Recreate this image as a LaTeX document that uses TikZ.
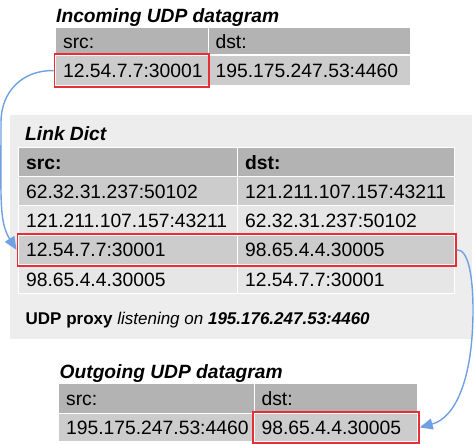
\documentclass[tikz,border=0pt]{standalone}
\usepackage{fontspec}
\setmainfont{Liberation Sans}
\usetikzlibrary{arrows.meta,fit}
\definecolor{hdr}{RGB}{179,179,179}
\definecolor{rowA}{RGB}{204,204,204}
\definecolor{rowB}{RGB}{230,230,230}
\definecolor{panelgray}{RGB}{237,237,237}
\definecolor{hl}{RGB}{232,45,55}
\definecolor{arr}{RGB}{112,160,225}
\begin{document}
\begin{tikzpicture}[x=1pt,y=-1pt,
  cell/.style={anchor=north west, shape=rectangle, draw=white, line width=1.2pt,
    inner xsep=7.5pt, inner ysep=0pt, text height=13.8pt, text depth=0pt,
    align=left, font=\fontsize{19.3}{22}\selectfont},
  cw/.code={\pgfmathsetmacro\tw{#1-15}\edef\tmp{\noexpand\tikzset{minimum width=#1pt,text width=\tw pt}}\tmp},
  ttl/.style={anchor=base west, inner sep=0pt, font=\fontsize{19.2}{22}\selectfont\bfseries\itshape},
  hlbox/.style={draw=hl, line width=1.8pt, inner sep=0.6pt, shape=rectangle},
  conn/.style={draw=arr, line width=1.4pt, -{Triangle[length=13pt,width=11pt]}}
]
\useasboundingbox (0,0) rectangle (474,444);

% ---- Incoming datagram
\node[ttl] (tin) at (56,22.7) {Incoming UDP datagram};
\node[cell, cw=152.5, minimum height=27.5pt, fill=hdr] (i1) at (55,27) {src:};
\node[cell, cw=202.5, minimum height=27.5pt, fill=hdr] (i2) at (207.5,27) {dst:};
\node[cell, cw=152.5, minimum height=31pt, fill=rowA] (i3) at (55,54.5) {12.54.7.7:30001};
\node[cell, cw=202.5, minimum height=31pt, fill=rowA] (i4) at (207.5,54.5) {195.175.247.53:4460};
\node[hlbox, fit=(i3)] (hlTop) {};

% ---- Link dict panel
\node[fill=panelgray, anchor=north west, minimum width=462pt, minimum height=224pt, inner sep=0pt] (pn) at (10,115) {};
\node[ttl] (tld) at (25,140.7) {Link Dict};
\node[cell, cw=219, minimum height=29pt, fill=hdr, font=\fontsize{19.3}{22}\selectfont\bfseries] (h1) at (18,147) {src:};
\node[cell, cw=217, minimum height=29pt, fill=hdr, font=\fontsize{19.3}{22}\selectfont\bfseries] (h2) at (237,147) {dst:};
\node[cell, cw=219, minimum height=29pt, fill=rowA] (a1) at (18,176) {62.32.31.237:50102};
\node[cell, cw=217, minimum height=29pt, fill=rowA] (a2) at (237,176) {121.211.107.157:43211};
\node[cell, cw=219, minimum height=29.5pt, fill=rowB] (b1) at (18,205) {121.211.107.157:43211};
\node[cell, cw=217, minimum height=29.5pt, fill=rowB] (b2) at (237,205) {62.32.31.237:50102};
\node[cell, cw=219, minimum height=29.5pt, fill=rowA] (c1) at (18,234.5) {12.54.7.7:30001};
\node[cell, cw=217, minimum height=29.5pt, fill=rowA] (c2) at (237,234.5) {98.65.4.4.30005};
\node[cell, cw=219, minimum height=29pt, fill=rowB] (d1) at (18,264) {98.65.4.4.30005};
\node[cell, cw=217, minimum height=29pt, fill=rowB] (d2) at (237,264) {12.54.7.7:30001};
\node[hlbox, fit=(c1)(c2)] (hlMid) {};
\node[anchor=base west, inner sep=0pt, font=\fontsize{17}{20}\selectfont] (px) at (25.5,324)
  {\textbf{UDP proxy} \textit{listening on} \textbf{\textit{195.176.247.53:4460}}};

% ---- Outgoing datagram
\node[ttl] (tout) at (59.5,378.3) {Outgoing UDP datagram};
\node[cell, cw=195.5, minimum height=29.5pt, fill=hdr] (o1) at (58,383) {src:};
\node[cell, cw=163.5, minimum height=29.5pt, fill=hdr] (o2) at (253.5,383) {dst:};
\node[cell, cw=195.5, minimum height=28.5pt, fill=rowA] (o3) at (58,412.5) {195.175.247.53:4460};
\node[cell, cw=163.5, minimum height=28.5pt, fill=rowA] (o4) at (253.5,412.5) {98.65.4.4.30005};
\node[hlbox, fit=(o4)] (hlBot) {};

% ---- connectors
\coordinate (w1) at (1,122);
\coordinate (w2) at (473,310);
\draw[conn] (hlTop.west) .. controls (22,70) and (1,92) .. (w1)
  .. controls (1,200) and (-1,222) .. (hlMid.west);
\draw[conn] (hlMid.east) .. controls (468,249) and (473,275) .. (w2)
  .. controls (473,380) and (455,418) .. (hlBot.east);
\end{tikzpicture}
\end{document}
